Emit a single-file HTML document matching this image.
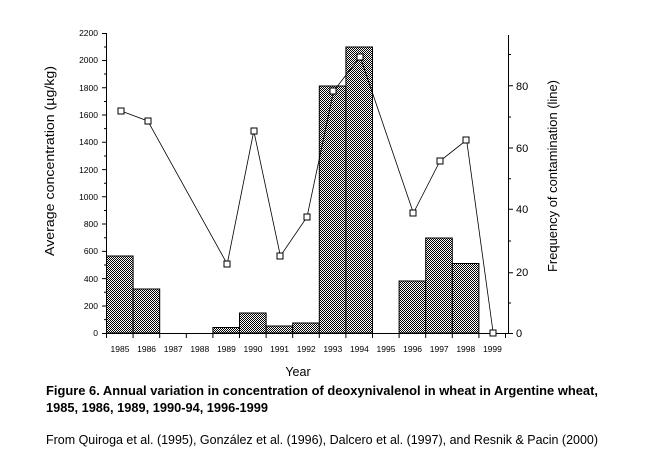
<!DOCTYPE html>
<html><head><meta charset="utf-8"><style>
html,body{margin:0;padding:0;background:#fff;}
svg{display:block;font-family:"Liberation Sans",Arial,sans-serif;}
</style></head><body>
<svg width="650" height="461" viewBox="0 0 650 461" xmlns="http://www.w3.org/2000/svg">
<defs>
<pattern id="h" width="2" height="2" patternUnits="userSpaceOnUse">
<rect width="2" height="2" fill="#fff"/>
<rect x="0" y="0" width="1" height="1" fill="#000"/>
<rect x="1" y="1" width="1" height="1" fill="#000"/>
</pattern>
</defs>
<g fill="url(#h)" stroke="#000" stroke-width="1">
<rect x="106.5" y="256" width="26.6" height="77"/>
<rect x="133.1" y="289" width="26.6" height="44"/>
<rect x="212.9" y="327.5" width="26.6" height="5.5"/>
<rect x="239.5" y="313" width="26.6" height="20"/>
<rect x="266.1" y="326" width="26.6" height="7"/>
<rect x="292.7" y="323" width="26.6" height="10"/>
<rect x="319.3" y="86" width="26.6" height="247"/>
<rect x="345.9" y="47" width="26.6" height="286"/>
<rect x="399.1" y="281" width="26.6" height="52"/>
<rect x="425.7" y="238" width="26.6" height="95"/>
<rect x="452.3" y="263.5" width="26.6" height="69.5"/>
</g>
<g stroke="#000" stroke-width="1" fill="none">
<line x1="106.5" y1="33" x2="106.5" y2="334"/>
<line x1="106" y1="333.5" x2="509" y2="333.5"/>
<line x1="508.5" y1="35" x2="508.5" y2="334"/>
</g>
<g stroke="#000" stroke-width="1">
<path d="M102 33.5H106 M102 60.5H106 M102 87.8H106 M102 115H106 M102 142.3H106 M102 169.6H106 M102 196.8H106 M102 224H106 M102 251.4H106 M102 278.6H106 M102 306H106 M102 333.5H106"/>
<path d="M104 47H106 M104 74H106 M104 101.5H106 M104 128.6H106 M104 156H106 M104 183.2H106 M104 210.5H106 M104 237.7H106 M104 265H106 M104 292.3H106 M104 319.6H106"/>
<path d="M508 333.5H513 M508 272.7H513 M508 209.3H513 M508 148H513 M508 85.7H513"/>
<path d="M508 303H511 M508 241H511 M508 178.7H511 M508 117H511 M508 54.5H511"/>
<path d="M106.5 333V338 M133.1 333V338 M159.7 333V338 M186.3 333V338 M212.9 333V338 M239.5 333V338 M266.1 333V338 M292.7 333V338 M319.3 333V338 M345.9 333V338 M372.5 333V338 M399.1 333V338 M425.7 333V338 M452.3 333V338 M478.9 333V338 M505.5 333V338"/>
</g>
<polyline fill="none" stroke="#000" stroke-width="0.8" points="121.3,111 147.8,121 227.2,264 253.8,131 280.4,256 307,217 333.6,91 360.2,57 413.4,213 440,161 466.6,140 493.2,333"/>
<g fill="#fff" stroke="#000" stroke-width="1">
<rect x="118" y="108" width="6" height="6"/>
<rect x="145" y="118" width="6" height="6"/>
<rect x="224" y="261" width="6" height="6"/>
<rect x="251" y="128" width="6" height="6"/>
<rect x="277" y="253" width="6" height="6"/>
<rect x="304" y="214" width="6" height="6"/>
<rect x="330" y="88" width="6" height="6"/>
<rect x="357" y="54" width="6" height="6"/>
<rect x="410" y="210" width="6" height="6"/>
<rect x="437" y="158" width="6" height="6"/>
<rect x="463" y="137" width="6" height="6"/>
<rect x="490" y="330" width="6" height="6"/>
</g>
<g font-size="8.5" text-anchor="end" fill="#000">
<text x="98" y="36">2200</text><text x="98" y="63">2000</text><text x="98" y="91">1800</text>
<text x="98" y="118">1600</text><text x="98" y="145">1400</text><text x="98" y="173">1200</text>
<text x="98" y="200">1000</text><text x="98" y="227">800</text><text x="98" y="254">600</text>
<text x="98" y="282">400</text><text x="98" y="309">200</text><text x="98" y="336">0</text>
</g>
<g font-size="11" fill="#000">
<text x="516" y="337">0</text><text x="516" y="276">20</text><text x="516" y="213">40</text>
<text x="516" y="152">60</text><text x="516" y="90">80</text>
</g>
<g font-size="8.5" text-anchor="middle" fill="#000">
<text x="120" y="352">1985</text><text x="146.6" y="352">1986</text><text x="173.2" y="352">1987</text>
<text x="199.8" y="352">1988</text><text x="226.4" y="352">1989</text><text x="253" y="352">1990</text>
<text x="279.6" y="352">1991</text><text x="306.2" y="352">1992</text><text x="332.8" y="352">1993</text>
<text x="359.4" y="352">1994</text><text x="386" y="352">1995</text><text x="412.6" y="352">1996</text>
<text x="439.2" y="352">1997</text><text x="465.8" y="352">1998</text><text x="492.4" y="352">1999</text>
</g>
<text x="54" y="256" font-size="13" textLength="190" lengthAdjust="spacingAndGlyphs" transform="rotate(-90 54 256)">Average concentration (µg/kg)</text>
<text x="557" y="272" font-size="13" textLength="192" lengthAdjust="spacingAndGlyphs" transform="rotate(-90 557 272)">Frequency of contamination (line)</text>
<text x="298" y="376" font-size="12.5" text-anchor="middle">Year</text>
<text x="46" y="395" font-size="12.5" font-weight="bold" textLength="552" lengthAdjust="spacingAndGlyphs">Figure 6.  Annual variation in concentration of deoxynivalenol in wheat in Argentine wheat,</text>
<text x="46" y="412" font-size="12.5" font-weight="bold" textLength="222" lengthAdjust="spacingAndGlyphs">1985, 1986, 1989, 1990-94, 1996-1999</text>
<text x="46" y="444" font-size="12.5" textLength="552" lengthAdjust="spacingAndGlyphs">From Quiroga et al. (1995), González et al. (1996), Dalcero et al. (1997), and Resnik &amp; Pacin (2000)</text>
</svg>
</body></html>
